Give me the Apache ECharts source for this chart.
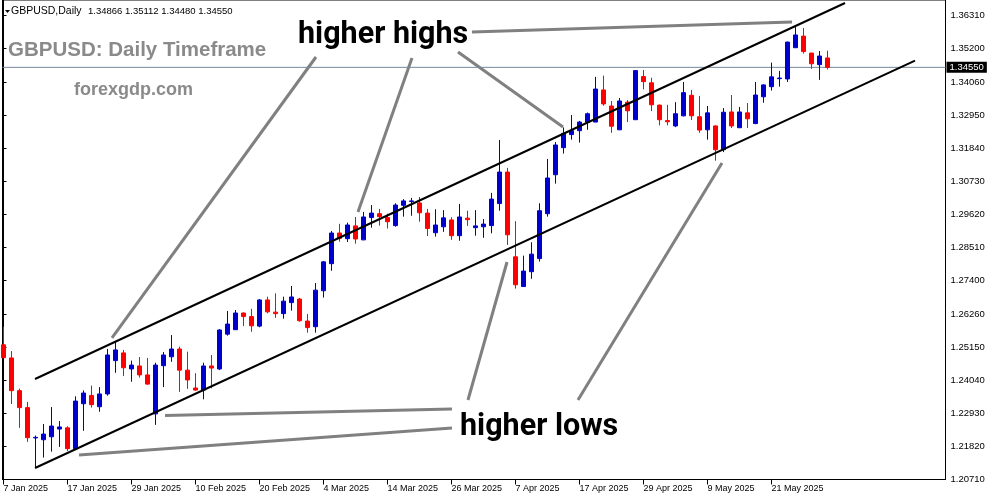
<!DOCTYPE html>
<html><head><meta charset="utf-8">
<script src="https://cdn.jsdelivr.net/npm/echarts@6/dist/echarts.min.js"></script>
<style>html,body{margin:0;padding:0;background:#fff}#c{width:991px;height:501px}</style>
</head><body><div id="c"></div>
<script>
// ---- data (GBPUSD daily, index 0 = 7 Jan 2025, weekdays only) ----
const opens = [1.2522,1.2478,1.2368,1.2311,1.2209,1.2203,1.2213,1.2239,1.2243,1.2173,
1.2324,1.2352,1.2314,1.2357,1.2469,1.2495,1.2441,1.2451,1.2421,1.2290,
1.2452,1.2482,1.2508,1.2437,1.2377,1.2370,1.2451,1.2441,1.2558,1.2573,
1.2629,1.2617,1.2585,1.2673,1.2632,1.2627,1.2664,1.2676,1.2602,1.2583,
1.2704,1.2795,1.2898,1.2879,1.2922,1.2875,1.2950,1.2963,1.2950,1.2923,
1.2991,1.3004,1.2999,1.2965,1.2899,1.2919,1.2942,1.2889,1.2948,1.2916,
1.2919,1.2923,1.2997,1.3103,1.2818,1.2718,1.2768,1.2812,1.2963,1.3094,
1.3185,1.3229,1.3242,1.3271,1.3271,1.3379,1.3325,1.3245,1.3338,1.3279,
1.3424,1.3403,1.3328,1.3276,1.3258,1.3292,1.3361,1.3289,1.3245,1.3258,
1.3178,1.3305,1.3252,1.3302,1.3266,1.3356,1.3390,1.3417,1.3416,1.3521,
1.3560,1.3503,1.3464,1.34866];
const closes = [1.2479,1.2368,1.2311,1.2210,1.2211,1.2222,1.2249,1.2246,1.2173,1.2333,
1.2360,1.2321,1.2357,1.2488,1.2505,1.2445,1.2454,1.2421,1.2390,1.2454,
1.2488,1.2508,1.2437,1.2404,1.2370,1.2451,1.2444,1.2572,1.2592,1.2629,
1.2617,1.2586,1.2673,1.2633,1.2627,1.2669,1.2683,1.2603,1.2580,1.2706,
1.2801,1.2898,1.2880,1.2925,1.2878,1.2952,1.2965,1.2953,1.2936,1.2992,
1.3006,1.3006,1.2966,1.2913,1.2925,1.2949,1.2889,1.2952,1.2943,1.2922,
1.2928,1.3012,1.3103,1.2892,1.2724,1.2770,1.2827,1.2973,1.3083,1.3194,
1.3233,1.3242,1.3271,1.3299,1.3382,1.3332,1.3257,1.3342,1.3309,1.3444,
1.3407,1.3329,1.3279,1.3272,1.3299,1.3370,1.3292,1.3244,1.3302,1.3178,
1.3304,1.3258,1.3305,1.3282,1.3362,1.3396,1.3423,1.3419,1.3540,1.3564,
1.3508,1.3467,1.3493,1.34550];
const lows = [1.2477,1.2323,1.2243,1.2196,1.2109,1.2143,1.2163,1.2179,1.2165,1.2168,
1.2233,1.2311,1.2297,1.2351,1.2428,1.2417,1.2398,1.2412,1.2388,1.2253,
1.2380,1.2465,1.2364,1.2374,1.2368,1.2339,1.2376,1.2437,1.2553,1.2572,
1.2585,1.2566,1.2581,1.2628,1.2613,1.2610,1.2637,1.2600,1.2563,1.2563,
1.2681,1.2771,1.2869,1.2868,1.2862,1.2874,1.2916,1.2923,1.2913,1.2919,
1.2953,1.2956,1.2936,1.2888,1.2886,1.2902,1.2875,1.2872,1.2922,1.2889,
1.2882,1.2897,1.2973,1.2858,1.2711,1.2717,1.2744,1.2802,1.2953,1.3064,
1.3165,1.3212,1.3202,1.3245,1.3271,1.3326,1.3235,1.3244,1.3271,1.3279,
1.3381,1.3308,1.3260,1.3260,1.3254,1.3290,1.3278,1.3235,1.3212,1.3141,
1.3170,1.3251,1.3252,1.3251,1.3264,1.3336,1.3377,1.3390,1.3406,1.3520,
1.3501,1.3450,1.3413,1.34480];
const highs = [1.2583,1.2501,1.2375,1.2330,1.2217,1.2256,1.2313,1.2266,1.2248,1.2349,
1.2369,1.2385,1.2380,1.2508,1.2532,1.2505,1.2469,1.2481,1.2478,1.2462,
1.2498,1.2555,1.2516,1.2499,1.2427,1.2462,1.2488,1.2575,1.2636,1.2639,
1.2631,1.2643,1.2676,1.2684,1.2695,1.2684,1.2720,1.2680,1.2626,1.2730,
1.2804,1.2905,1.2929,1.2933,1.2952,1.2969,1.2992,1.2979,1.2963,1.2998,
1.3012,1.3016,1.3019,1.2979,1.2978,1.2975,1.2951,1.2996,1.2973,1.2975,
1.2945,1.3033,1.3211,1.3117,1.2938,1.2822,1.2867,1.2998,1.3147,1.3204,
1.3253,1.3295,1.3275,1.3303,1.3423,1.3427,1.3342,1.3352,1.3345,1.3446,
1.3446,1.3420,1.3330,1.3329,1.3338,1.3406,1.3379,1.3359,1.3325,1.3260,
1.3318,1.3362,1.3322,1.3335,1.3406,1.3398,1.3471,1.3443,1.3541,1.3591,
1.3587,1.3504,1.3510,1.35112];

const xTickIndex = [0,8,16,24,32,40,48,56,64,72,80,88,96];
const xTickLabels = ['7 Jan 2025','17 Jan 2025','29 Jan 2025','10 Feb 2025','20 Feb 2025','4 Mar 2025','14 Mar 2025','26 Mar 2025','7 Apr 2025','17 Apr 2025','29 Apr 2025','9 May 2025','21 May 2025'];
const yTicks = [1.20710,1.21820,1.22930,1.24040,1.25150,1.26260,1.27400,1.28510,1.29620,1.30730,1.31840,1.32950,1.34060,1.35200,1.36310];
const lastPrice = 1.34550;
const headerValues = ['1.34866','1.35112','1.34480','1.34550'];

// channel lines and annotation pointers, in [bar index, price]
const channelUpper = [[3.94, 1.24072], [105.19, 1.36713]];
const channelLower = [[3.94, 1.21080], [113.94, 1.34774]];
const pointerLines = [
  [[39.06, 1.34898], [13.56, 1.25451]],
  [[51.06, 1.34864], [44.31, 1.29687]],
  [[56.81, 1.35066], [69.94, 1.32545]],
  [[58.56, 1.35738], [98.56, 1.36075]],
  [[20.19, 1.22845], [56.06, 1.23063]],
  [[9.44, 1.21517], [56.06, 1.22425]],
  [[58.06, 1.23366], [62.94, 1.28006]],
  [[71.81, 1.23366], [89.81, 1.31334]]
];

const candleData = opens.map((o, i) => [i, o, closes[i], lows[i], highs[i]]);

const chart = echarts.init(document.getElementById('c'), null, {renderer: 'canvas'});
const series = [];
pointerLines.forEach(seg => series.push({
  type: 'line', data: seg, symbol: 'none', silent: true, z: 1,
  lineStyle: {color: '#808080', width: 3}
}));
series.push({
  type: 'line', data: [[-0.125, lastPrice], [117.75, lastPrice]], symbol: 'none', silent: true, z: 2,
  lineStyle: {color: '#778899', width: 1},
  endLabel: {show: true, distance: 1, formatter: () => lastPrice.toFixed(5),
    backgroundColor: '#000', color: '#fff', fontSize: 9.5, fontFamily: 'Liberation Sans',
    padding: [1, 3, 0, 3], lineHeight: 10}
});
series.push({
  type: 'candlestick', data: candleData, encode: {x: 0, y: [1, 2, 3, 4]},
  barWidth: 4, z: 3, silent: true,
  itemStyle: {color: '#0000CD', color0: '#FF0000', borderColor: '#0000CD', borderColor0: '#FF0000', borderWidth: 1}
});
[channelUpper, channelLower].forEach(seg => series.push({
  type: 'line', data: seg, symbol: 'none', silent: true, z: 4,
  lineStyle: {color: '#000', width: 2}
}));

chart.setOption({
  animation: false,
  backgroundColor: '#fff',
  grid: {left: 2.5, right: 45.5, top: 0, bottom: 21.5, show: true, borderColor: '#000', borderWidth: 1, backgroundColor: 'transparent'},
  xAxis: {
    type: 'value', min: -0.125, max: 117.75,
    axisLine: {show: true, lineStyle: {color: '#000', width: 1}},
    axisTick: {show: true, length: 5, customValues: xTickIndex, lineStyle: {color: '#000'}},
    axisLabel: {customValues: xTickIndex, align: 'left', margin: 5, color: '#000', fontSize: 9, fontFamily: 'Liberation Sans',
      formatter: v => { const k = xTickIndex.indexOf(Math.round(v)); return k >= 0 ? xTickLabels[k] : ''; }},
    splitLine: {show: false}
  },
  yAxis: {
    type: 'value', position: 'right', min: 1.206932, max: 1.368143, scale: true,
    axisLine: {show: true, lineStyle: {color: '#000', width: 1}},
    axisTick: {show: true, length: 3, customValues: yTicks, lineStyle: {color: '#000'}},
    axisLabel: {customValues: yTicks, margin: 5, color: '#000', fontSize: 9.5, fontFamily: 'Liberation Sans',
      formatter: v => v.toFixed(5)},
    splitLine: {show: false}
  },
  series: series,
  graphic: [
    {type: 'polygon', shape: {points: [[5, 10], [10, 10], [7.5, 13]]}, style: {fill: '#000'}, z: 100},
    {type: 'text', z: 100, style: {text: 'GBPUSD,Daily', x: 11, y: 11.5, font: '10.5px "Liberation Sans"', fill: '#000', textAlign: 'left', textVerticalAlign: 'middle'}},
    {type: 'text', z: 100, style: {text: headerValues.join(' '), x: 88, y: 11.5, font: '9.5px "Liberation Sans"', fill: '#000', textAlign: 'left', textVerticalAlign: 'middle'}},
    {type: 'text', z: 100, style: {text: 'GBPUSD: Daily Timeframe', x: 8, y: 50.3, font: 'bold 20.5px "Liberation Sans"', fill: '#8a8a8a', textAlign: 'left', textVerticalAlign: 'middle'}},
    {type: 'text', z: 100, style: {text: 'forexgdp.com', x: 74, y: 90.3, font: 'bold 18px "Liberation Sans"', fill: '#8a8a8a', textAlign: 'left', textVerticalAlign: 'middle'}},
    {type: 'text', z: 100, style: {text: 'higher highs', x: 298, y: 35.6, font: 'bold 30.5px Roboto', fill: '#000', textAlign: 'left', textVerticalAlign: 'middle'}},
    {type: 'text', z: 100, style: {text: 'higher lows', x: 460, y: 427, font: 'bold 30.5px Roboto', fill: '#000', textAlign: 'left', textVerticalAlign: 'middle'}}
  ]
});
</script></body></html>
